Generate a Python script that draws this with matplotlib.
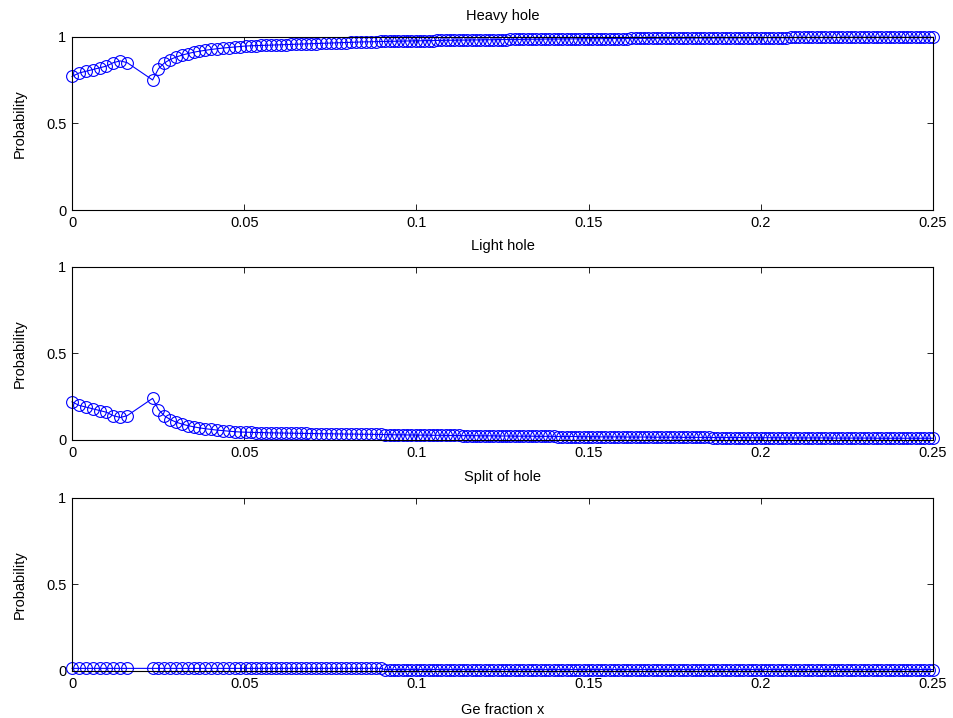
import numpy as np
import matplotlib
matplotlib.use("Agg")
import matplotlib.pyplot as plt

plt.rcParams['font.family'] = ['Liberation Sans', 'DejaVu Sans']

# Ge fraction sample grid: sparse start, gap after 0.016, then gets denser
ge_x = np.concatenate([
    np.arange(0, 0.0161, 0.002),        # 9 pts
    np.linspace(0.0234, 0.0489, 16),    # 16 pts
    np.linspace(0.0505, 0.0896, 28),    # 28 pts
    np.linspace(0.091, 0.25, 128),      # 128 pts
])

heavy = [
    0.770, 0.790, 0.800, 0.810, 0.820, 0.830, 0.850, 0.860, 0.850,
    0.750, 0.815, 0.848, 0.868, 0.882, 0.893, 0.902, 0.910,
    0.916, 0.921, 0.926, 0.930, 0.934, 0.937, 0.940, 0.943,
    0.946, 0.947, 0.948, 0.949, 0.950, 0.951, 0.952, 0.953, 0.954, 0.955,
    0.956, 0.957, 0.958, 0.959, 0.960, 0.961, 0.962, 0.963, 0.964, 0.965,
    0.966, 0.967, 0.968, 0.969, 0.970, 0.970, 0.971, 0.972,
    0.972, 0.973, 0.973, 0.974, 0.974, 0.975, 0.975, 0.976, 0.976, 0.977, 0.977, 0.977, 0.978, 0.978, 0.979, 0.979,
    0.979, 0.980, 0.980, 0.980, 0.981, 0.981, 0.981, 0.982, 0.982, 0.982, 0.983, 0.983, 0.983, 0.984, 0.984, 0.984,
    0.984, 0.985, 0.985, 0.985, 0.985, 0.986, 0.986, 0.986, 0.986, 0.987, 0.987, 0.987, 0.987, 0.987, 0.988, 0.988,
    0.988, 0.988, 0.988, 0.989, 0.989, 0.989, 0.989, 0.989, 0.989, 0.990, 0.990, 0.990, 0.990, 0.990, 0.990, 0.991,
    0.991, 0.991, 0.991, 0.991, 0.991, 0.991, 0.992, 0.992, 0.992, 0.992, 0.992, 0.992, 0.992, 0.993, 0.993, 0.993,
    0.993, 0.993, 0.993, 0.993, 0.993, 0.994, 0.994, 0.994, 0.994, 0.994, 0.994, 0.994, 0.994, 0.994, 0.995, 0.995,
    0.995, 0.995, 0.995, 0.995, 0.995, 0.995, 0.995, 0.995, 0.995, 0.995, 0.996, 0.996, 0.996, 0.996, 0.996, 0.996,
    0.996, 0.996, 0.996, 0.996, 0.996, 0.996, 0.996, 0.996, 0.996, 0.996, 0.996, 0.996, 0.996, 0.996, 0.996, 0.996,
]

light = [
    0.220, 0.200, 0.190, 0.180, 0.170, 0.160, 0.140, 0.130, 0.140,
    0.240, 0.175, 0.140, 0.118, 0.103, 0.092, 0.083, 0.076,
    0.070, 0.065, 0.061, 0.057, 0.054, 0.051, 0.048, 0.046,
    0.045, 0.044, 0.043, 0.043, 0.042, 0.041, 0.041, 0.040, 0.040, 0.039,
    0.039, 0.038, 0.038, 0.037, 0.037, 0.036, 0.036, 0.036, 0.035, 0.035,
    0.034, 0.034, 0.034, 0.033, 0.033, 0.033, 0.032, 0.032,
    0.031, 0.031, 0.030, 0.030, 0.030, 0.029, 0.029, 0.029, 0.028, 0.028, 0.028, 0.027, 0.027, 0.027, 0.026, 0.026,
    0.026, 0.026, 0.025, 0.025, 0.025, 0.025, 0.024, 0.024, 0.024, 0.024, 0.023, 0.023, 0.023, 0.023, 0.022, 0.022,
    0.022, 0.022, 0.022, 0.021, 0.021, 0.021, 0.021, 0.021, 0.020, 0.020, 0.020, 0.020, 0.020, 0.019, 0.019, 0.019,
    0.019, 0.019, 0.018, 0.018, 0.018, 0.018, 0.018, 0.018, 0.017, 0.017, 0.017, 0.017, 0.017, 0.017, 0.016, 0.016,
    0.016, 0.016, 0.016, 0.016, 0.016, 0.015, 0.015, 0.015, 0.015, 0.015, 0.015, 0.015, 0.014, 0.014, 0.014, 0.014,
    0.014, 0.014, 0.014, 0.014, 0.013, 0.013, 0.013, 0.013, 0.013, 0.013, 0.013, 0.013, 0.013, 0.012, 0.012, 0.012,
    0.012, 0.012, 0.012, 0.012, 0.012, 0.012, 0.012, 0.011, 0.011, 0.011, 0.011, 0.011, 0.011, 0.011, 0.011, 0.011,
    0.011, 0.011, 0.010, 0.010, 0.010, 0.010, 0.010, 0.010, 0.010, 0.010, 0.010, 0.010, 0.010, 0.010, 0.010, 0.010,
]

# split-off band stays near zero: slightly higher below x = 0.09
split = [0.015] * 53 + [0.008] * 128

titles = ['Heavy hole', 'Light hole', 'Split of hole']
series = [heavy, light, split]
x_ticks = [0, 0.05, 0.1, 0.15, 0.2, 0.25]
x_tick_labels = ['0', '0.05', '0.1', '0.15', '0.2', '0.25']
y_ticks = [0, 0.5, 1]
y_tick_labels = ['0', '0.5', '1']

fig = plt.figure(figsize=(9.54, 7.18), dpi=100)
bottoms = [0.7075, 0.3872, 0.0655]

for title, vals, b in zip(titles, series, bottoms):
    ax = fig.add_axes([0.0755, b, 0.9025, 0.2415])
    ax.plot(ge_x, vals, '-o', color='#0000ff', mfc='none', mec='#0000ff',
            markersize=8.5, markeredgewidth=0.8, linewidth=0.8, clip_on=False)
    ax.set_xlim(0, 0.25)
    ax.set_ylim(0, 1)
    ax.set_xticks(x_ticks)
    ax.set_xticklabels(x_tick_labels)
    ax.set_yticks(y_ticks)
    ax.set_yticklabels(y_tick_labels)
    ax.tick_params(direction='in', top=True, right=True, length=4, width=0.6,
                   labelsize=10.5, pad=4)
    for s in ax.spines.values():
        s.set_linewidth(0.8)
    ax.set_title(title, fontsize=10.5, pad=12)
    ax.set_ylabel('Probability', fontsize=10.5, labelpad=14)

ax.set_xlabel('Ge fraction x', fontsize=10.5, labelpad=9)

fig.savefig('out.png', dpi=100, facecolor='white')
